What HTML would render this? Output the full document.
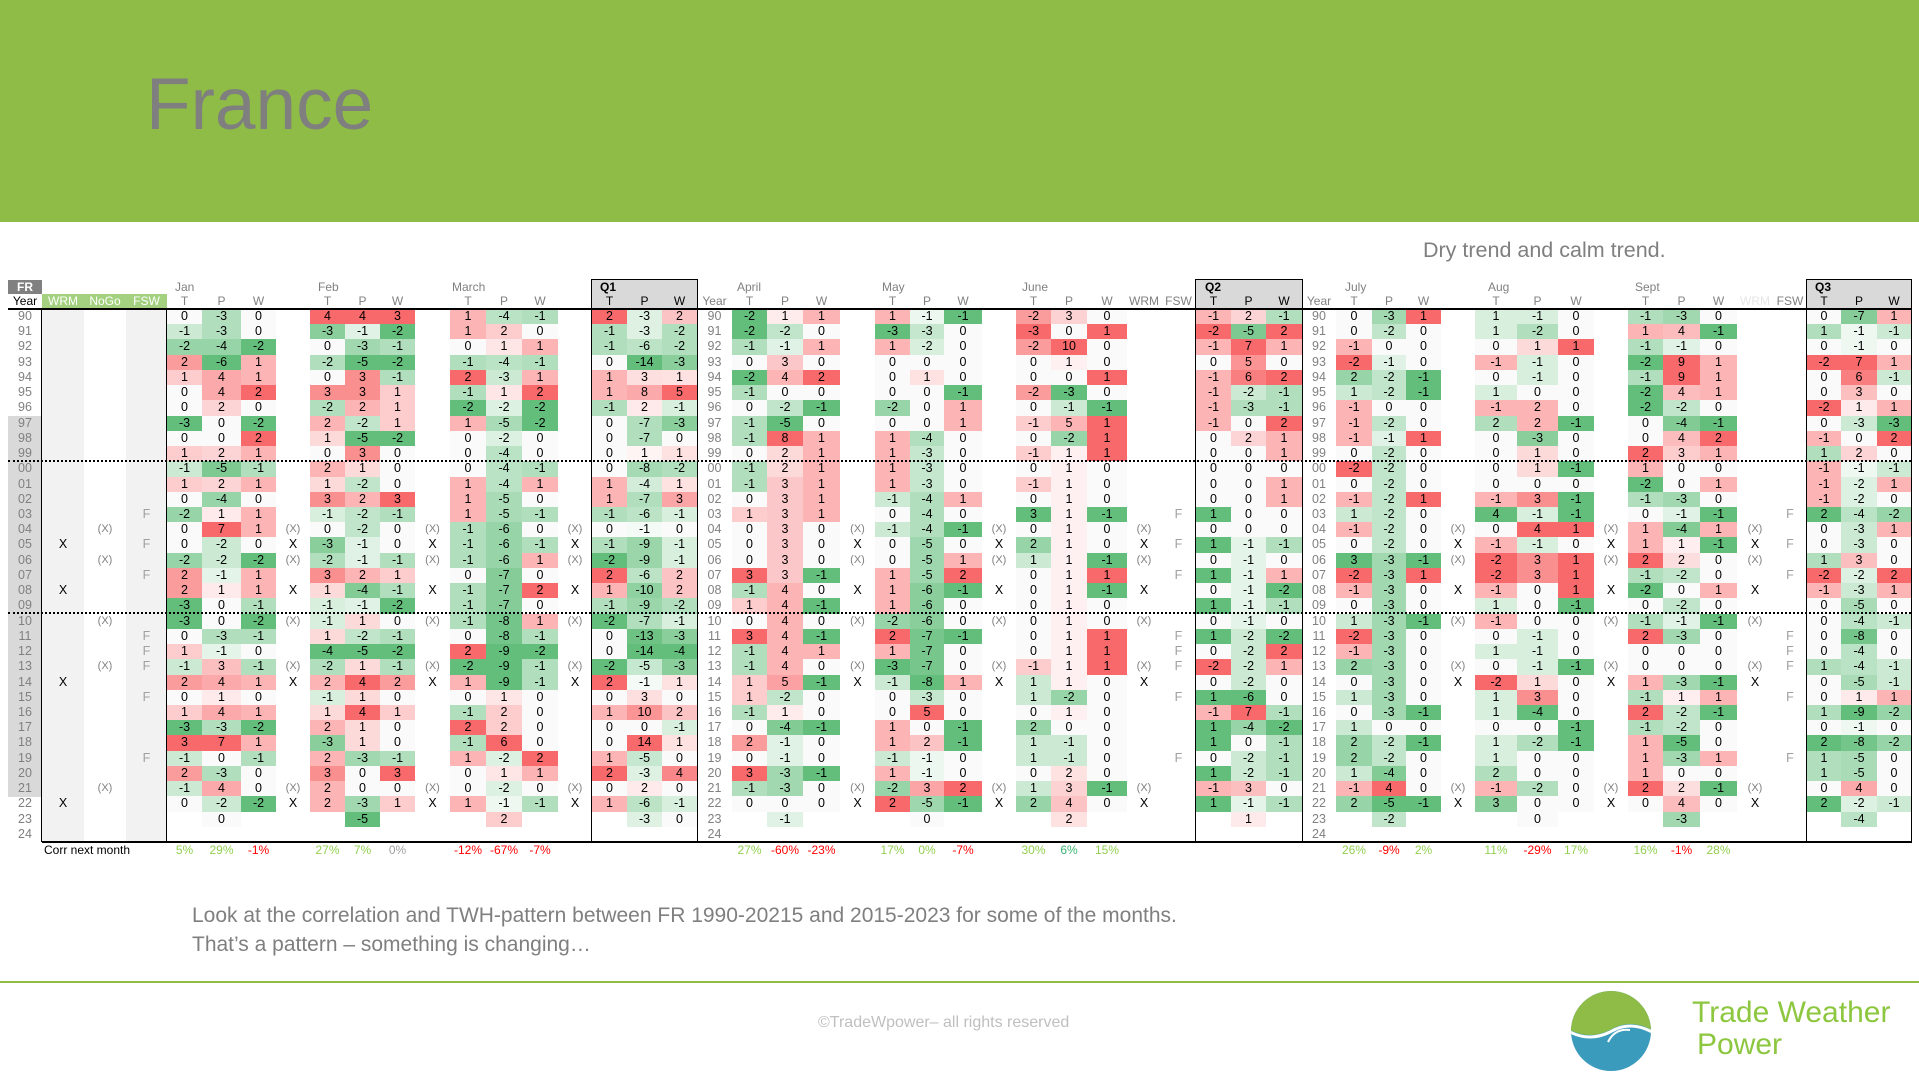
<!DOCTYPE html>
<html><head><meta charset="utf-8">
<style>
*{margin:0;padding:0;box-sizing:border-box}
body{width:1919px;height:1079px;position:relative;background:#fff;font-family:"Liberation Sans",Arial,sans-serif;overflow:hidden}
.a{position:absolute;white-space:nowrap}
.r{position:absolute;left:0;height:15.3px;display:flex}
.r i{font-style:normal;display:block;height:15.3px;line-height:15.3px;text-align:center;font-size:12.5px;font-family:"Liberation Sans Narrow","Liberation Sans",sans-serif;color:#000}
.hd{position:absolute;font-size:12px;color:#808080;font-family:"Liberation Sans Narrow","Liberation Sans",sans-serif;text-align:center}
</style></head><body>
<div class="a" style="left:0;top:0;width:1919px;height:222px;background:#8fbc46"></div>
<div class="a" style="left:146px;top:68px;font-size:73px;line-height:73px;color:#7f7f7f">France</div>
<div class="a" style="left:1423px;top:238px;font-size:21.5px;color:#7f7f7f">Dry trend and calm trend.</div>

<div class="a" style="left:8px;top:280px;width:34px;height:14px;background:#808080;color:#fff;font-weight:bold;font-size:12px;text-align:center;line-height:14px">FR</div>
<div class="a" style="left:42px;top:294px;width:125px;height:15px;background:#a3d17f"></div>
<div class="a" style="left:592px;top:280px;width:105px;height:29px;background:#d9d9d9"></div>
<div class="a" style="left:1196px;top:280px;width:106px;height:29px;background:#d9d9d9"></div>
<div class="a" style="left:1807px;top:280px;width:104px;height:29px;background:#d9d9d9"></div>
<div class="a" style="left:42px;top:309px;width:42px;height:533px;background:#f2f2f2"></div>
<div class="a" style="left:126px;top:309px;width:41px;height:533px;background:#f2f2f2"></div>
<div class="a" style="left:8px;top:415.6px;width:34px;height:381px;background:#d9d9d9"></div>

<div id="rows">
<div class="r">90|||0 -3 0|4 4 3|1 -4 -1|2 -3 2|-2 1 1|1 -1 -1|-2 3 0|-1 2 -1|0 -3 1|1 -1 0|-1 -3 0|0 -7 1</div>
<div class="r">91|||-1 -3 0|-3 -1 -2|1 2 0|-1 -3 -2|-2 -2 0|-3 -3 0|-3 0 1|-2 -5 2|0 -2 0|1 -2 0|1 4 -1|1 -1 -1</div>
<div class="r">92|||-2 -4 -2|0 -3 -1|0 1 1|-1 -6 -2|-1 -1 1|1 -2 0|-2 10 0|-1 7 1|-1 0 0|0 1 1|-1 -1 0|0 -1 0</div>
<div class="r">93|||2 -6 1|-2 -5 -2|-1 -4 -1|0 -14 -3|0 3 0|0 0 0|0 1 0|0 5 0|-2 -1 0|-1 -1 0|-2 9 1|-2 7 1</div>
<div class="r">94|||1 4 1|0 3 -1|2 -3 1|1 3 1|-2 4 2|0 1 0|0 0 1|-1 6 2|2 -2 -1|0 -1 0|-1 9 1|0 6 -1</div>
<div class="r">95|||0 4 2|3 3 1|-1 1 2|1 8 5|-1 0 0|0 0 -1|-2 -3 0|-1 -2 -1|1 -2 -1|1 0 0|-2 4 1|0 3 0</div>
<div class="r">96|||0 2 0|-2 2 1|-2 -2 -2|-1 2 -1|0 -2 -1|-2 0 1|0 -1 -1|-1 -3 -1|-1 0 0|-1 2 0|-2 -2 0|-2 1 1</div>
<div class="r">97|||-3 0 -2|2 -2 1|1 -5 -2|0 -7 -3|-1 -5 0|0 0 1|-1 5 1|-1 0 2|-1 -2 0|2 2 -1|0 -4 -1|0 -3 -3</div>
<div class="r">98|||0 0 2|1 -5 -2|0 -2 0|0 -7 0|-1 8 1|1 -4 0|0 -2 1|0 2 1|-1 -1 1|0 -3 0|0 4 2|-1 0 2</div>
<div class="r">99|||1 2 1|0 3 0|0 -4 0|0 1 1|0 2 1|1 -3 0|-1 1 1|0 0 1|0 -2 0|0 1 0|2 3 1|1 2 0</div>
<div class="r">00|||-1 -5 -1|2 1 0|0 -4 -1|0 -8 -2|-1 2 1|1 -3 0|0 1 0|0 0 0|-2 -2 0|0 1 -1|1 0 0|-1 -1 -1</div>
<div class="r">01|||1 2 1|1 -2 0|1 -4 1|1 -4 1|-1 3 1|1 -3 0|-1 1 0|0 0 1|0 -2 0|0 0 0|-2 0 1|-1 -2 1</div>
<div class="r">02|||0 -4 0|3 2 3|1 -5 0|1 -7 3|0 3 1|-1 -4 1|0 1 0|0 0 1|-1 -2 1|-1 3 -1|-1 -3 0|-1 -2 0</div>
<div class="r">03||F|-2 1 1|-1 -2 -1|1 -5 -1|-1 -6 -1|1 3 1|0 -4 0|3 1 -1|1 0 0|1 -2 0|4 -1 -1|0 -1 -1|2 -4 -2</div>
<div class="r">04|(X)||0 7 1|0 -2 0|-1 -6 0|0 -1 0|0 3 0|-1 -4 -1|0 1 0|0 0 0|-1 -2 0|0 4 1|1 -4 1|0 -3 1</div>
<div class="r">05|X|F|0 -2 0|-3 -1 0|-1 -6 -1|-1 -9 -1|0 3 0|0 -5 0|2 1 0|1 -1 -1|0 -2 0|-1 -1 0|1 1 -1|0 -3 0</div>
<div class="r">06|(X)||-2 -2 -2|-2 -1 -1|-1 -6 1|-2 -9 -1|0 3 0|0 -5 1|1 1 -1|0 -1 0|3 -3 -1|-2 3 1|2 2 0|1 3 0</div>
<div class="r">07||F|2 -1 1|3 2 1|0 -7 0|2 -6 2|3 3 -1|1 -5 2|0 1 1|1 -1 1|-2 -3 1|-2 3 1|-1 -2 0|-2 -2 2</div>
<div class="r">08|X||2 1 1|1 -4 -1|-1 -7 2|1 -10 2|-1 4 0|1 -6 -1|0 1 -1|0 -1 -2|-1 -3 0|-1 0 1|-2 0 1|-1 -3 1</div>
<div class="r">09|||-3 0 -1|-1 -1 -2|-1 -7 0|-1 -9 -2|1 4 -1|1 -6 0|0 1 0|1 -1 -1|0 -3 0|1 0 -1|0 -2 0|0 -5 0</div>
<div class="r">10|(X)||-3 0 -2|-1 1 0|-1 -8 1|-2 -7 -1|0 4 0|-2 -6 0|0 1 0|0 -1 0|1 -3 -1|-1 0 0|-1 -1 -1|0 -4 -1</div>
<div class="r">11||F|0 -3 -1|1 -2 -1|0 -8 -1|0 -13 -3|3 4 -1|2 -7 -1|0 1 1|1 -2 -2|-2 -3 0|0 -1 0|2 -3 0|0 -8 0</div>
<div class="r">12||F|1 -1 0|-4 -5 -2|2 -9 -2|0 -14 -4|-1 4 1|1 -7 0|0 1 1|0 -2 2|-1 -3 0|1 -1 0|0 0 0|0 -4 0</div>
<div class="r">13|(X)|F|-1 3 -1|-2 1 -1|-2 -9 -1|-2 -5 -3|-1 4 0|-3 -7 0|-1 1 1|-2 -2 1|2 -3 0|0 -1 -1|0 0 0|1 -4 -1</div>
<div class="r">14|X||2 4 1|2 4 2|1 -9 -1|2 -1 1|1 5 -1|-1 -8 1|1 1 0|0 -2 0|0 -3 0|-2 1 0|1 -3 -1|0 -5 -1</div>
<div class="r">15||F|0 1 0|-1 1 0|0 1 0|0 3 0|1 -2 0|0 -3 0|1 -2 0|1 -6 0|1 -3 0|1 3 0|-1 1 1|0 1 1</div>
<div class="r">16|||1 4 1|1 4 1|-1 2 0|1 10 2|-1 1 0|0 5 0|0 1 0|-1 7 -1|0 -3 -1|1 -4 0|2 -2 -1|1 -9 -2</div>
<div class="r">17|||-3 -3 -2|2 1 0|2 2 0|0 0 -1|0 -4 -1|1 0 -1|2 0 0|1 -4 -2|1 0 0|0 0 -1|-1 -2 0|0 -1 0</div>
<div class="r">18|||3 7 1|-3 1 0|-1 6 0|0 14 1|2 -1 0|1 2 -1|1 -1 0|1 0 -1|2 -2 -1|1 -2 -1|1 -5 0|2 -8 -2</div>
<div class="r">19||F|-1 0 -1|2 -3 -1|1 -2 2|1 -5 0|0 -1 0|-1 -1 0|1 -1 0|0 -2 -1|2 -2 0|1 0 0|1 -3 1|1 -5 0</div>
<div class="r">20|||2 -3 0|3 0 3|0 1 1|2 -3 4|3 -3 -1|1 -1 0|0 2 0|1 -2 -1|1 -4 0|2 0 0|1 0 0|1 -5 0</div>
<div class="r">21|(X)||-1 4 0|2 0 0|0 -2 0|0 2 0|-1 -3 0|-2 3 2|1 3 -1|-1 3 0|-1 4 0|-1 -2 0|2 2 -1|0 4 0</div>
<div class="r">22|X||0 -2 -2|2 -3 1|1 -1 -1|1 -6 -1|0 0 0|2 -5 -1|2 4 0|1 -1 -1|2 -5 -1|3 0 0|0 4 0|2 -2 -1</div>
<div class="r">23|||_ 0 _|_ -5 _|_ 2 _|_ -3 0|_ -1 _|_ 0 _|_ 2 _|_ 1 _|_ -2 _|_ 0 _|_ -3 _|_ -4 _</div>
<div class="r">24|||_ _ _|_ _ _|_ _ _|_ _ _|_ _ _|_ _ _|_ _ _|_ _ _|_ _ _|_ _ _|_ _ _|_ _ _</div>
</div>

<div class="hd" style="left:8px;top:294px;width:34px;color:#000">Year</div>
<div class="hd" style="left:42px;top:294px;width:42px;color:#fff">WRM</div>
<div class="hd" style="left:84px;top:294px;width:42px;color:#fff">NoGo</div>
<div class="hd" style="left:126px;top:294px;width:41px;color:#fff">FSW</div>
<div class="hd" style="left:175px;top:280px;text-align:left">Jan</div>
<div class="hd" style="left:318px;top:280px;text-align:left">Feb</div>
<div class="hd" style="left:452px;top:280px;text-align:left">March</div>
<div class="hd" style="left:600px;top:280px;text-align:left;color:#000;font-weight:bold">Q1</div>
<div class="hd" style="left:737px;top:280px;text-align:left">April</div>
<div class="hd" style="left:882px;top:280px;text-align:left">May</div>
<div class="hd" style="left:1022px;top:280px;text-align:left">June</div>
<div class="hd" style="left:1205px;top:280px;text-align:left;color:#000;font-weight:bold">Q2</div>
<div class="hd" style="left:1345px;top:280px;text-align:left">July</div>
<div class="hd" style="left:1488px;top:280px;text-align:left">Aug</div>
<div class="hd" style="left:1635px;top:280px;text-align:left">Sept</div>
<div class="hd" style="left:1815px;top:280px;text-align:left;color:#000;font-weight:bold">Q3</div>
<div class="hd" style="left:697px;top:294px;width:35px">Year</div>
<div class="hd" style="left:1302px;top:294px;width:34px">Year</div>
<div class="hd" style="left:1127px;top:294px;width:34px">WRM</div>
<div class="hd" style="left:1161px;top:294px;width:35px">FSW</div>
<div class="hd" style="left:1737px;top:294px;width:36px;color:#e6e6e6">WRM</div>
<div class="hd" style="left:1773px;top:294px;width:34px">FSW</div>
<div id="tpw"></div>

<div class="a" style="left:8px;top:308px;width:1903px;height:2px;background:#000"></div>
<div class="a" style="left:42px;top:841px;width:1869px;height:2px;background:#000"></div>
<div class="a" style="left:41px;top:309px;width:1px;height:533px;background:#000"></div>
<div class="a" style="left:166px;top:309px;width:1px;height:533px;background:#000"></div>
<div class="a" style="left:8px;top:460px;width:1903px;border-top:2px dotted #000"></div>
<div class="a" style="left:8px;top:612px;width:1903px;border-top:2px dotted #000"></div>
<div class="a" style="left:591px;top:279px;width:107px;height:564px;border:1.5px solid #000"></div>
<div class="a" style="left:1195px;top:279px;width:108px;height:564px;border:1.5px solid #000"></div>
<div class="a" style="left:1806px;top:279px;width:106px;height:564px;border:1.5px solid #000"></div>

<div class="a" style="left:44px;top:843px;font-size:12px;font-family:'Liberation Sans Narrow','Liberation Sans',sans-serif">Corr next month</div>

<div class="a" style="left:192px;top:901px;font-size:21px;color:#7f7f7f;line-height:29px">Look at the correlation and TWH-pattern between FR 1990-20215 and 2015-2023 for some of the months.<br>That’s a pattern – something is changing…</div>
<div class="a" style="left:0;top:981px;width:1919px;height:2px;background:#8fbc46"></div>
<div class="a" style="left:818px;top:1014px;font-size:16px;color:#bfbfbf">©TradeWpower– all rights reserved</div>
<svg class="a" style="left:1570px;top:990px" width="82" height="82" viewBox="0 0 82 82">
<defs><clipPath id="c"><circle cx="41" cy="41" r="40"/></clipPath></defs>
<g clip-path="url(#c)"><rect width="82" height="82" fill="#3a9bbd"/><path d="M0 0H82V40Q60 28 40 40Q20 50 0 40Z" fill="#8fbc46"/><path d="M0 42Q20 52 40 42Q60 30 82 42" stroke="#fff" stroke-width="3" fill="none"/><path d="M38 52Q45 38 60 40" stroke="#fff" stroke-width="2" fill="none"/></g></svg>
<div class="a" style="left:1692px;top:996px;font-size:30px;color:#8dc63f">Trade Weather</div>
<div class="a" style="left:1697px;top:1028px;font-size:30px;color:#8dc63f">Power</div>

<script>
var W=[8,34,42,42,41,35,39,35,34,35,35,35,35,36,36,36,34,35,35,35,35,35,36,37,35,35,34,38,34,35,36,40,34,35,35,35,36,34,36,34,35,34,42,41,36,34,35,37,37,36,34,34,36,34];
var X=[0];for(var k=0;k<W.length;k++)X.push(X[k]+W[k]);
var G=[5,9,13,17,21,25,29,34,38,42,46,51],GAP=[8,12,16,24,28,32,41,45,49],FI=[4,33,50],YI=[1,20,37];
var REV={29:1,34:1,38:1,42:1,51:1};
var rows=document.querySelectorAll('#rows .r'),grid=[];
rows.forEach(function(r,ri){
 var p=r.textContent.split('|'),c=[];for(var k=0;k<54;k++)c.push('');
 YI.forEach(function(i){c[i]=p[0]});
 var m=p[1],f=p[2];
 if(m){GAP.forEach(function(i){c[i]=m});if(m=='X')c[2]='X';else c[3]='(X)';}
 if(f)FI.forEach(function(i){c[i]=f});
 for(var g=0;g<12;g++){var v=p[3+g].split(' ');for(var j=0;j<3;j++)c[G[g]+j]=v[j]=='_'?'':v[j];}
 grid.push(c);
});
var isD={};G.forEach(function(g){isD[g]=isD[g+1]=isD[g+2]=1});
var mx={},mn={};
for(var k=0;k<54;k++)if(isD[k]){mx[k]=0;mn[k]=0;grid.forEach(function(c){if(c[k]!==''){var v=+c[k];if(v>mx[k])mx[k]=v;if(v<mn[k])mn[k]=v;}})}
var RED=[248,105,107],GRN=[99,190,123];
function col(v,k){var t,tc;var rv=REV[k];if(v>0){t=v/mx[k];tc=rv?GRN:RED}else if(v<0){t=v/mn[k];tc=rv?RED:GRN}else{return 'rgb(250,250,250)'}
 return 'rgb('+[0,1,2].map(function(i){return Math.round(255+(tc[i]-255)*t)}).join(',')+')'}
rows.forEach(function(r,ri){
 var c=grid[ri],h='';
 for(var k=0;k<54;k++){
  var s='width:'+W[k]+'px;';var t=c[k];
  if(isD[k]&&t!=='')s+='background:'+col(+t,k)+';';
  if(YI.indexOf(k)>=0)s+='color:#808080;';
  if(k==2||GAP.indexOf(k)>=0){if(t=='(X)')s+='color:#808080;font-size:11px;';}
  if(k==3)s+='color:#808080;font-size:11px;';
  if(FI.indexOf(k)>=0)s+='color:#a0a0a0;';
  h+='<i style="'+s+'">'+t+'</i>';
 }
 r.innerHTML=h;r.style.top=(309+ri*15.23)+'px';
});
var tp='';G.forEach(function(g,gi){['T','P','W'].forEach(function(L,j){var q=(gi==3||gi==7||gi==11);tp+='<div class="hd" style="left:'+X[g+j]+'px;top:294px;width:'+W[g+j]+'px;'+(q?'color:#000;':'')+'">'+L+'</div>'})});
document.getElementById('tpw').innerHTML=tp;
</script>
<div class="a" style="left:0;top:843px;width:1919px;height:16px">
<span class="a" style="left:167px;width:35px;text-align:center;font-size:12px;color:#92d050">5%</span>
<span class="a" style="left:202px;width:39px;text-align:center;font-size:12px;color:#92d050">29%</span>
<span class="a" style="left:241px;width:35px;text-align:center;font-size:12px;color:#ff0000">-1%</span>
<span class="a" style="left:310px;width:35px;text-align:center;font-size:12px;color:#92d050">27%</span>
<span class="a" style="left:345px;width:35px;text-align:center;font-size:12px;color:#92d050">7%</span>
<span class="a" style="left:380px;width:35px;text-align:center;font-size:12px;color:#a0a0a0">0%</span>
<span class="a" style="left:450px;width:36px;text-align:center;font-size:12px;color:#ff0000">-12%</span>
<span class="a" style="left:486px;width:36px;text-align:center;font-size:12px;color:#ff0000">-67%</span>
<span class="a" style="left:522px;width:36px;text-align:center;font-size:12px;color:#ff0000">-7%</span>
<span class="a" style="left:732px;width:35px;text-align:center;font-size:12px;color:#92d050">27%</span>
<span class="a" style="left:767px;width:36px;text-align:center;font-size:12px;color:#ff0000">-60%</span>
<span class="a" style="left:803px;width:37px;text-align:center;font-size:12px;color:#ff0000">-23%</span>
<span class="a" style="left:875px;width:35px;text-align:center;font-size:12px;color:#92d050">17%</span>
<span class="a" style="left:910px;width:34px;text-align:center;font-size:12px;color:#92d050">0%</span>
<span class="a" style="left:944px;width:38px;text-align:center;font-size:12px;color:#ff0000">-7%</span>
<span class="a" style="left:1016px;width:35px;text-align:center;font-size:12px;color:#92d050">30%</span>
<span class="a" style="left:1051px;width:36px;text-align:center;font-size:12px;color:#3cb371">6%</span>
<span class="a" style="left:1087px;width:40px;text-align:center;font-size:12px;color:#92d050">15%</span>
<span class="a" style="left:1336px;width:36px;text-align:center;font-size:12px;color:#92d050">26%</span>
<span class="a" style="left:1372px;width:34px;text-align:center;font-size:12px;color:#ff0000">-9%</span>
<span class="a" style="left:1406px;width:35px;text-align:center;font-size:12px;color:#92d050">2%</span>
<span class="a" style="left:1475px;width:42px;text-align:center;font-size:12px;color:#92d050">11%</span>
<span class="a" style="left:1517px;width:41px;text-align:center;font-size:12px;color:#ff0000">-29%</span>
<span class="a" style="left:1558px;width:36px;text-align:center;font-size:12px;color:#92d050">17%</span>
<span class="a" style="left:1628px;width:35px;text-align:center;font-size:12px;color:#92d050">16%</span>
<span class="a" style="left:1663px;width:37px;text-align:center;font-size:12px;color:#ff0000">-1%</span>
<span class="a" style="left:1700px;width:37px;text-align:center;font-size:12px;color:#92d050">28%</span>
</div>
</body></html>
